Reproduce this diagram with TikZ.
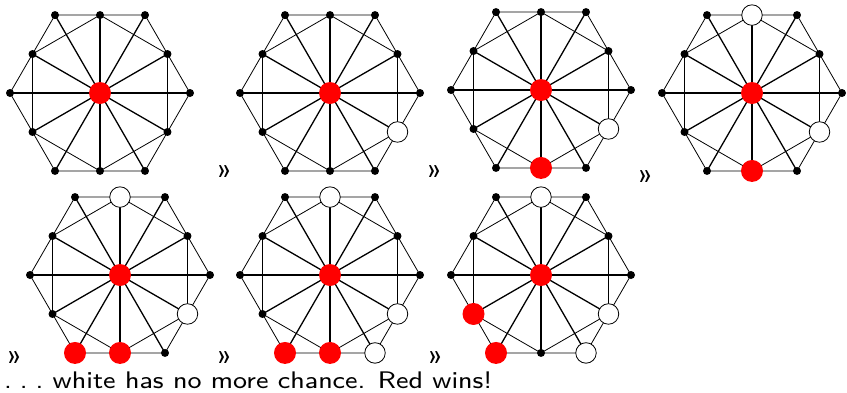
\documentclass[tikz,border=0pt]{standalone}
\usepackage{graphicx}
\usetikzlibrary{calc}
\tikzset{
  spoke/.style={line width=1.3pt, black},
  rim/.style={line width=0.8pt, black},
  dot/.style={circle, fill=black, draw=none, inner sep=0pt, minimum size=8pt},
  redstone/.style={circle, fill=red, draw=none, inner sep=0pt, minimum size=22pt},
  whitestone/.style={circle, fill=white, draw=black, line width=0.8pt, inner sep=0pt, minimum size=20.5pt},
  arrowmark/.style={inner sep=0pt},
  msgtext/.style={inner sep=0pt, anchor=base west}
}
\newcommand\bigsf[1]{\scalebox{3.3}[3.0]{\sffamily\fontsize{8}{10}\selectfont #1}}
\newcommand\gmark{\scalebox{3.6}[3.4]{\sffamily\fontsize{8}{10}\selectfont »}}
\newcommand\hexgraph[3]{%
  \coordinate (#1c) at (#2,-#3);
  \foreach \a in {0,30,...,330}{%
    \pgfmathsetmacro\rr{mod(\a,60)==0 ? 90 : 77.94}%
    \coordinate (#1p\a) at ($(#1c)+(\a:\rr pt)$);
  }
  \foreach \a in {0,30,...,330}{\draw[spoke] (#1c) -- (#1p\a);}
  \foreach \a in {0,30,...,330}{%
    \pgfmathtruncatemacro\bb{mod(\a+30,360)}%
    \draw[rim] (#1p\a) -- (#1p\bb);}
  \foreach \a in {30,90,...,330}{%
    \pgfmathtruncatemacro\bb{mod(\a+60,360)}%
    \draw[rim] (#1p\a) -- (#1p\bb);}
  \foreach \a in {0,30,...,330}{\node[dot, v\a/.try] (#1n\a) at (#1p\a) {};}
  \node[redstone] (#1center) at (#1c) {};
}
\begin{document}
\begin{tikzpicture}[x=1pt, y=1pt]
\useasboundingbox (0,0) rectangle (847,-392);
\begin{scope}
  \hexgraph{ga}{100}{93}
\end{scope}
\begin{scope}[v330/.style={whitestone}]
  \hexgraph{gb}{330}{93}
\end{scope}
\begin{scope}[v330/.style={whitestone}, v270/.style={redstone}]
  \hexgraph{gc}{541}{90}
\end{scope}
\begin{scope}[v330/.style={whitestone}, v90/.style={whitestone}, v270/.style={redstone}]
  \hexgraph{gd}{752}{93}
\end{scope}
\begin{scope}[v330/.style={whitestone}, v90/.style={whitestone}, v270/.style={redstone}, v240/.style={redstone}]
  \hexgraph{ge}{120}{275}
\end{scope}
\begin{scope}[v330/.style={whitestone}, v90/.style={whitestone}, v300/.style={whitestone}, v270/.style={redstone}, v240/.style={redstone}]
  \hexgraph{gf}{330}{275}
\end{scope}
\begin{scope}[v330/.style={whitestone}, v90/.style={whitestone}, v300/.style={whitestone}, v210/.style={redstone}, v240/.style={redstone}]
  \hexgraph{gg}{541}{275}
\end{scope}
\node[arrowmark] (m1) at (225,-172) {\gmark};
\node[arrowmark] (m2) at (435,-172) {\gmark};
\node[arrowmark] (m3) at (646,-177) {\gmark};
\node[arrowmark] (m4) at (15,-358) {\gmark};
\node[arrowmark] (m5) at (225,-358) {\gmark};
\node[arrowmark] (m6) at (436,-358) {\gmark};
\node[msgtext] (msg) at (4,-388) {\bigsf{.\kern0.3em.\kern0.3em.\ white has no more chance. Red wins!}};
\end{tikzpicture}
\end{document}
